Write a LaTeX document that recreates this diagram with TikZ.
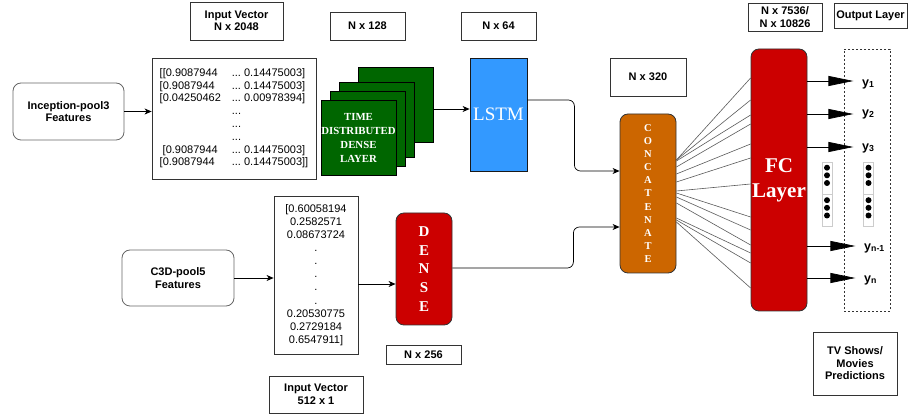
\documentclass[tikz,border=0pt]{standalone}
\usepackage{fontspec}
\setmainfont{Liberation Sans}
\newfontfamily\serifx{Liberation Serif}
\usetikzlibrary{arrows.meta}

\definecolor{tddgreen}{HTML}{006600}
\definecolor{lstmblue}{HTML}{3399FF}
\definecolor{fcred}{HTML}{CC0000}
\definecolor{catorange}{HTML}{CC6600}
\definecolor{edgegray}{HTML}{333333}

\begin{document}
\begin{tikzpicture}[x=1pt,y=-1pt,
    lbl/.style={draw=edgegray,line width=0.8pt,inner sep=0pt,align=center,
        font=\fontsize{11}{12.5}\selectfont\bfseries},
    feat/.style={draw=black!60,line width=0.8pt,rounded corners=8pt,inner sep=0pt,
        align=center,font=\fontsize{11}{12.5}\selectfont\bfseries},
    vec/.style={draw=edgegray,line width=0.8pt,inner sep=0pt,align=center},
    tdd/.style={draw=black,line width=0.8pt,fill=tddgreen,minimum width=75pt,
        minimum height=75pt,inner sep=0pt},
    layer/.style={draw=edgegray,line width=0.8pt,inner sep=0pt,text=white,align=center},
    dotbox/.style={draw=black!20,line width=0.6pt,minimum width=10pt,minimum height=32pt,inner sep=0pt},
    ylab/.style={anchor=west,inner sep=0pt,font=\fontsize{12.5}{14}\selectfont\bfseries},
    arr/.style={-{Stealth[length=7pt,width=6pt,inset=2pt]},line width=0.7pt},
    fan/.style={draw=black!65,line width=0.6pt},
    outarr/.style={-{Triangle[length=25pt,width=10pt]},line width=0.7pt}
]
    \useasboundingbox (0,0) rectangle (908,419);

    % Size labels
    \node[lbl,minimum width=93pt,minimum height=38pt] (dimin) at (236.5,21) {Input Vector\\N x 2048};
    \node[lbl,minimum width=75pt,minimum height=28pt] (dimtdd) at (367.5,26) {N x 128};
    \node[lbl,minimum width=75pt,minimum height=28pt] (dimlstm) at (498.5,26) {N x 64};
    \node[lbl,minimum width=76pt,minimum height=38pt] (dimcat) at (648,77) {N x 320};
    \node[lbl,minimum width=74pt,minimum height=28pt] (dimfc) at (785,17) {N x 7536/\\N x 10826};
    \node[lbl,minimum width=73pt,minimum height=25pt] (outlbl) at (870.5,15.5) {Output Layer};
    \node[lbl,minimum width=84pt,minimum height=63pt] (pred) at (855,363.5) {TV Shows/\\Movies\\Predictions};
    \node[lbl,minimum width=75pt,minimum height=19pt] (dimdense) at (423.5,354.5) {N x 256};
    \node[lbl,minimum width=94pt,minimum height=37pt] (dimc3d) at (316,394.5) {Input Vector\\512 x 1};

    % Input features
    \node[feat,minimum width=111pt,minimum height=57pt] (incep) at (68.5,111.5) {Inception-pool3\\Features};
    \node[feat,minimum width=112pt,minimum height=56pt] (c3d) at (178,278) {C3D-pool5\\Features};

    % Input vectors
    \node[vec,minimum width=164pt,minimum height=121pt,font=\fontsize{11}{12.8}\selectfont] (veca) at (234,118.5) {%
        \begin{tabular}{@{}l@{\hspace{11pt}}l@{\hspace{3pt}}l@{}}
        [[0.9087944 & ... & 0.14475003]\\
        {[}0.9087944 & ... & 0.14475003]\\
        {[}0.04250462 & ... & 0.00978394]\\
         & ... & \\
         & ... & \\
         & ... & \\
        \hspace{3pt}[0.9087944 & ... & 0.14475003]\\
        {[}0.9087944 & ... & 0.14475003]]
        \end{tabular}};
    \node[vec,minimum width=84pt,minimum height=158pt,font=\fontsize{11}{13.1}\selectfont] (vecb) at (316,275) {%
        [0.60058194\\0.2582571\\0.08673724\\.\\.\\.\\.\\.\\0.20530775\\0.2729184\\0.6547911]\hspace{9pt}};

    % Time distributed dense stack
    \node[tdd] (tdd4) at (395.5,105) {};
    \node[tdd] (tdd3) at (376.5,119.5) {};
    \node[tdd] (tdd2) at (367.5,129) {};
    \node[tdd,text=white,align=center,font=\serifx\fontsize{10.8}{13.7}\selectfont\bfseries] (tdd1) at (358.5,138)
        {TIME\\DISTRIBUTED\\DENSE\\LAYER};

    % Layers
    \node[layer,draw=black!90,fill=lstmblue,minimum width=57pt,minimum height=113pt,
        font=\serifx\fontsize{19}{22}\selectfont] (lstm) at (498.5,114.5) {LSTM};
    \node[layer,fill=fcred,rounded corners=8pt,minimum width=56pt,minimum height=112pt,
        font=\serifx\fontsize{15}{18.7}\selectfont\bfseries] (dense) at (424,269) {D\\E\\N\\S\\E};
    \node[layer,fill=catorange,rounded corners=8pt,minimum width=56pt,minimum height=159pt,
        font=\serifx\fontsize{10.5}{13.07}\selectfont\bfseries] (concat) at (648,193.5)
        {C\\O\\N\\C\\A\\T\\E\\N\\A\\T\\E};
    \node[layer,fill=fcred,rounded corners=8pt,minimum width=56pt,minimum height=262pt,
        font=\serifx\fontsize{21}{25}\selectfont\bfseries] (fc) at (779,180) {FC\\Layer};

    % Output layer
    \node[draw=edgegray,line width=0.7pt,dash pattern=on 2pt off 2pt,minimum width=46pt,
        minimum height=262pt,inner sep=0pt] (outbox) at (867,180) {};
    \foreach \cx in {827,868.5}
        \foreach \cy in {178,210.5} {
            \node[dotbox] at (\cx,\cy) {};
            \foreach \d in {-10.3,-2.7,5}
                \fill (\cx,\cy+\d) circle (3pt);
        }
    \node[ylab] (y1) at (862,84) {y\textsubscript{1}};
    \node[ylab] (y2) at (862,114) {y\textsubscript{2}};
    \node[ylab] (y3) at (862,148) {y\textsubscript{3}};
    \node[ylab] (yn1) at (864,248) {y\textsubscript{n-1}};
    \node[ylab] (yn) at (864,280) {y\textsubscript{n}};

    % Connectors
    \draw[arr] (incep.east) -- (incep.east -| veca.west);
    \draw[arr] (c3d.east) -- (c3d.east -| vecb.west);
    \draw[arr] ([yshift=-9pt]vecb.east) -- ([yshift=-9pt]vecb.east -| dense.west);
    \draw[arr] ([yshift=-4pt]tdd4.east) -- ([yshift=-4pt]tdd4.east -| lstm.west);
    \draw[arr,rounded corners=6pt] ([yshift=14.5pt]lstm.east) -- ++(47,0) |- ([yshift=22.5pt]concat.west);
    \draw[arr,rounded corners=6pt] ([yshift=1pt]dense.east) -- ++(121,0) |- ([yshift=-33.5pt]concat.west);

    % Fully connected fan
    \foreach \a/\b in {160/78,160/100,161/115,167/124,174/144,182/158,191/184,
                       193/217,197/230,203/245,218/253,220/263,222/288}
        \draw[fan] (concat.east |- 0,\a) -- (fc.west |- 0,\b);

    % Outputs
    \draw[outarr] (fc.east |- 0,81) -- ++(46,0);
    \draw[outarr] (fc.east |- 0,114) -- ++(46,0);
    \draw[outarr] (fc.east |- 0,147) -- ++(46,0);
    \draw[outarr] (fc.east |- 0,246) -- ++(48,0);
    \draw[outarr] (fc.east |- 0,278) -- ++(48,0);
\end{tikzpicture}
\end{document}
